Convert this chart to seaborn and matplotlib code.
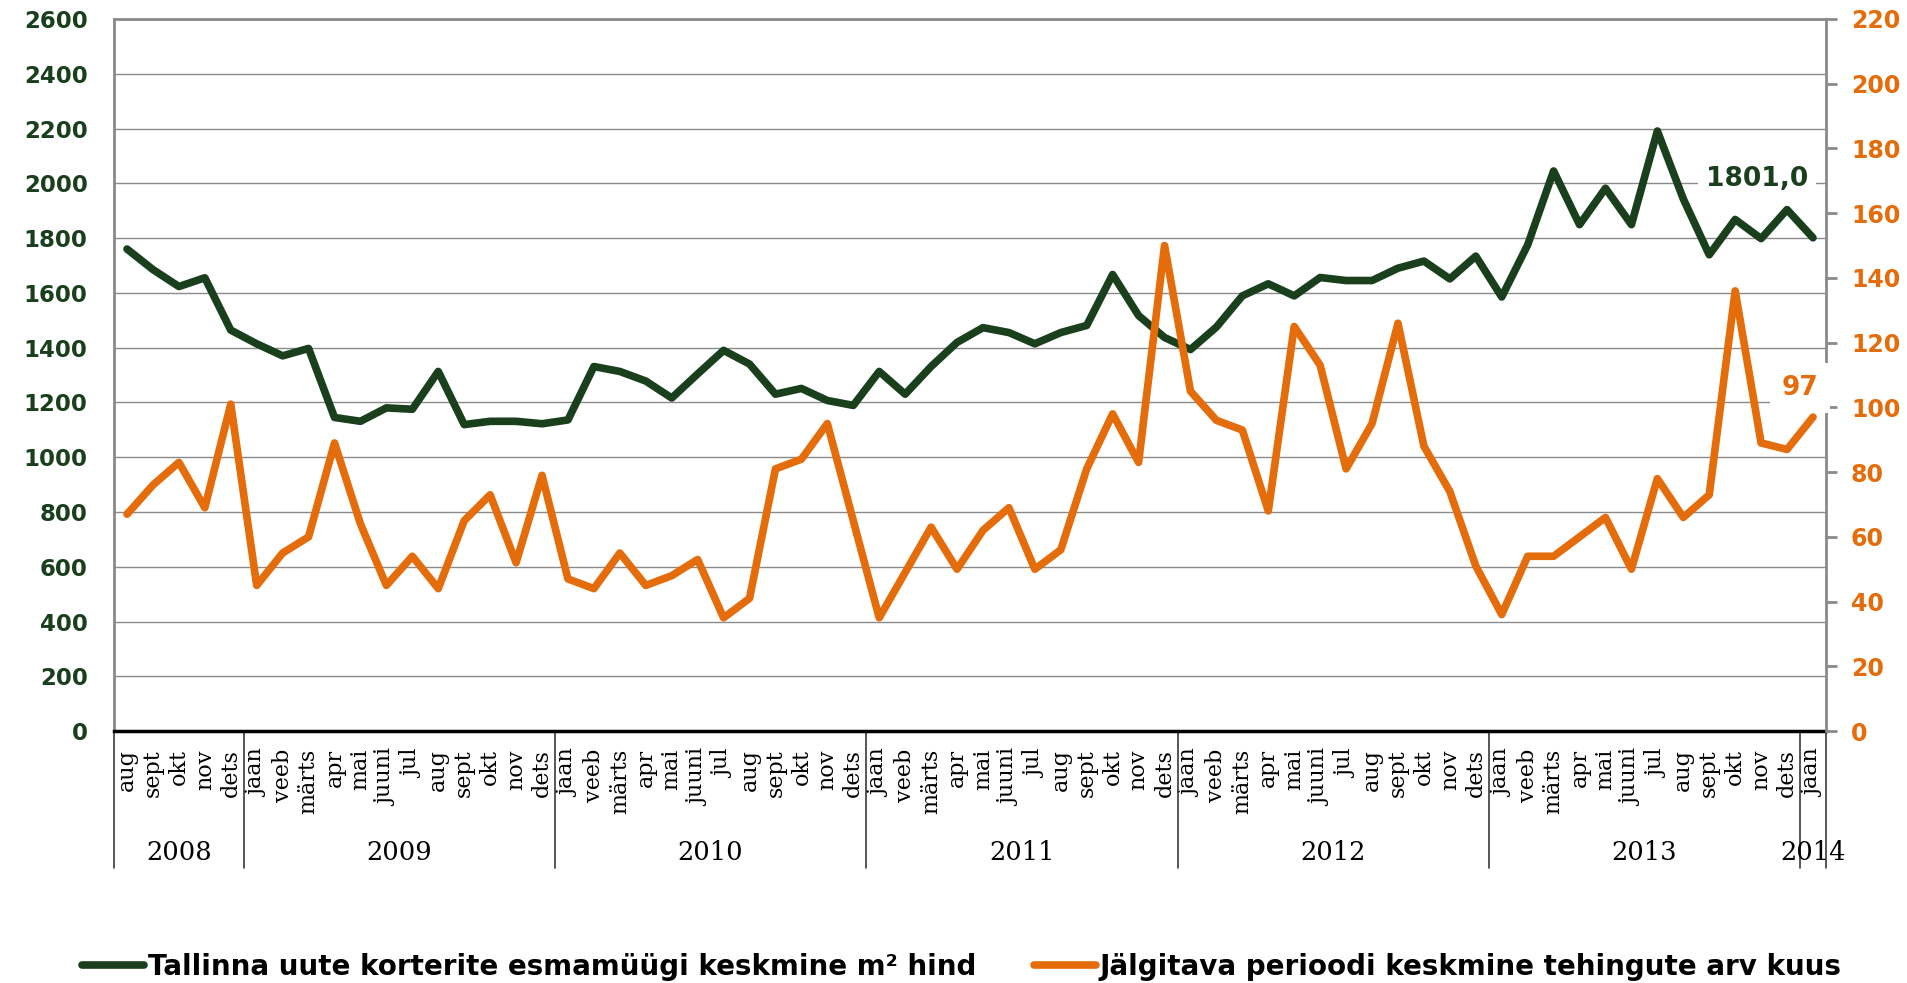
import matplotlib
matplotlib.use("Agg")
import matplotlib.pyplot as plt
import matplotlib.transforms as mtransforms
import numpy as np
import pandas as pd
import seaborn as sns

# --- data ---
years = ["2008", "2009", "2010", "2011", "2012", "2013", "2014"]
full_year = ["jaan", "veeb", "märts", "apr", "mai", "juuni",
             "jul", "aug", "sept", "okt", "nov", "dets"]
year_months = [full_year[7:], full_year, full_year, full_year,
               full_year, full_year, full_year[:1]]

# Tallinna uute korterite esmamüügi keskmine m² hind (left axis)
price = [1760, 1685, 1623, 1655, 1464,
         1414, 1370, 1397, 1145, 1131, 1180, 1175, 1313, 1119, 1131, 1131, 1122,
         1136, 1331, 1313, 1278, 1216, 1304, 1390, 1340, 1230, 1251, 1207, 1189,
         1313, 1230, 1331, 1419, 1473, 1455, 1414, 1455, 1481, 1667, 1517, 1437,
         1393, 1475, 1589, 1633, 1589, 1656, 1645, 1645, 1690, 1716, 1651, 1734,
         1585, 1775, 2045, 1849, 1982, 1849, 2191, 1943, 1739, 1868, 1798, 1904,
         1801]

# Jälgitava perioodi keskmine tehingute arv kuus (right axis)
deals = [67, 76, 83, 69, 101,
         45, 55, 60, 89, 64, 45, 54, 44, 65, 73, 52, 79,
         47, 44, 55, 45, 48, 53, 35, 41, 81, 84, 95, 65,
         35, 49, 63, 50, 62, 69, 50, 56, 81, 98, 83, 150,
         105, 96, 93, 68, 125, 113, 81, 95, 126, 88, 74, 51,
         36, 54, 54, 60, 66, 50, 78, 66, 73, 136, 89, 87,
         97]

price_label = "Tallinna uute korterite esmamüügi keskmine m² hind"
deals_label = "Jälgitava perioodi keskmine tehingute arv kuus"

GREEN = "#193f1d"
ORANGE = "#e46c0a"
GRID = "#8a8a8a"

sns.set_theme(style="white")
plt.rcParams["font.family"] = ["DejaVu Sans"]
plt.rcParams["text.color"] = "black"

months = [m for ms in year_months for m in ms]
df = pd.DataFrame({"idx": np.arange(len(months)), "price": price, "deals": deals})

fig = plt.figure(figsize=(19.07, 9.83), dpi=100)
ax = fig.add_axes([0.0598, 0.2563, 0.8977, 0.7244])
ax2 = ax.twinx()

sns.lineplot(data=df, x="idx", y="price", ax=ax, color=GREEN, linewidth=5.5,
             solid_capstyle="round", solid_joinstyle="round", legend=False)
sns.lineplot(data=df, x="idx", y="deals", ax=ax2, color=ORANGE, linewidth=5.5,
             solid_capstyle="round", solid_joinstyle="round", legend=False)

ax.set_xlim(-0.5, len(months) - 0.5)
ax.set_ylim(0, 2600)
ax2.set_ylim(0, 220)
ax.set_xlabel("")
ax.set_ylabel("")
ax2.set_ylabel("")

left_ticks = np.arange(0, 2601, 200)
right_ticks = np.arange(0, 221, 20)
ax.set_yticks(left_ticks, labels=[str(t) for t in left_ticks], fontweight="bold")
ax2.set_yticks(right_ticks, labels=[str(t) for t in right_ticks], fontweight="bold")
ax.tick_params(axis="y", labelsize=16.5, labelcolor=GREEN, length=0, pad=19)
ax2.tick_params(axis="y", labelsize=17, labelcolor=ORANGE, length=8, width=2,
                color=GRID, direction="out", pad=10)

ax.set_xticks(df["idx"], labels=months, rotation=90, fontfamily="DejaVu Serif",
              fontsize=16)
ax.tick_params(axis="x", length=0, pad=13, labelcolor="black")

ax.yaxis.grid(True, color=GRID, linewidth=1)
ax.xaxis.grid(False)
ax.set_axisbelow(True)

for name in ["top", "left"]:
    ax.spines[name].set_color(GRID)
    ax.spines[name].set_linewidth(2)
ax.spines["right"].set_visible(False)
ax.spines["bottom"].set_color("black")
ax.spines["bottom"].set_linewidth(2.5)
for name in ["top", "left", "bottom"]:
    ax2.spines[name].set_visible(False)
ax2.spines["right"].set_color(GRID)
ax2.spines["right"].set_linewidth(2)

# year separators and year labels below the month labels
trans = mtransforms.blended_transform_factory(ax.transData, ax.transAxes)
bounds = np.cumsum([0] + [len(m) for m in year_months]) - 0.5
for b in bounds:
    ax.plot([b, b], [0, -0.192], transform=trans, color="#3a3a3a", lw=1.2,
            clip_on=False)
for yr, ms, start in zip(years, year_months, bounds[:-1]):
    ax.text(start + len(ms) / 2, -0.170, yr, transform=trans, ha="center",
            va="center", fontfamily="DejaVu Serif", fontsize=18.5, color="black")

# end-value labels
last = df["idx"].iloc[-1]
ax2.annotate("1801,0", xy=(last, price[-1] / 2600 * 220), xytext=(-56, 59),
             textcoords="offset pixels", ha="center", va="center", fontsize=19,
             fontweight="bold", color=GREEN, zorder=6, annotation_clip=False,
             bbox=dict(boxstyle="square,pad=0.3", fc="white", ec="none"))
ax2.annotate("97", xy=(last, deals[-1]), xytext=(-13, 29),
             textcoords="offset pixels", ha="center", va="center", fontsize=19,
             fontweight="bold", color=ORANGE, zorder=6, annotation_clip=False,
             bbox=dict(boxstyle="square,pad=0.45", fc="white", ec="none"))

h1 = ax.get_lines()[0]
h2 = ax2.get_lines()[0]
leg = fig.legend(handles=[h1, h2], labels=[price_label, deals_label], loc="center",
                 bbox_to_anchor=(0.5045, 1 - 967 / 983), ncol=2, frameon=False,
                 prop={"weight": "bold", "size": 20}, handlelength=2.2,
                 handletextpad=0.15, columnspacing=2.1)
for t in leg.get_texts():
    t.set_color("black")

fig.savefig("out.png", dpi=100, facecolor="white")
